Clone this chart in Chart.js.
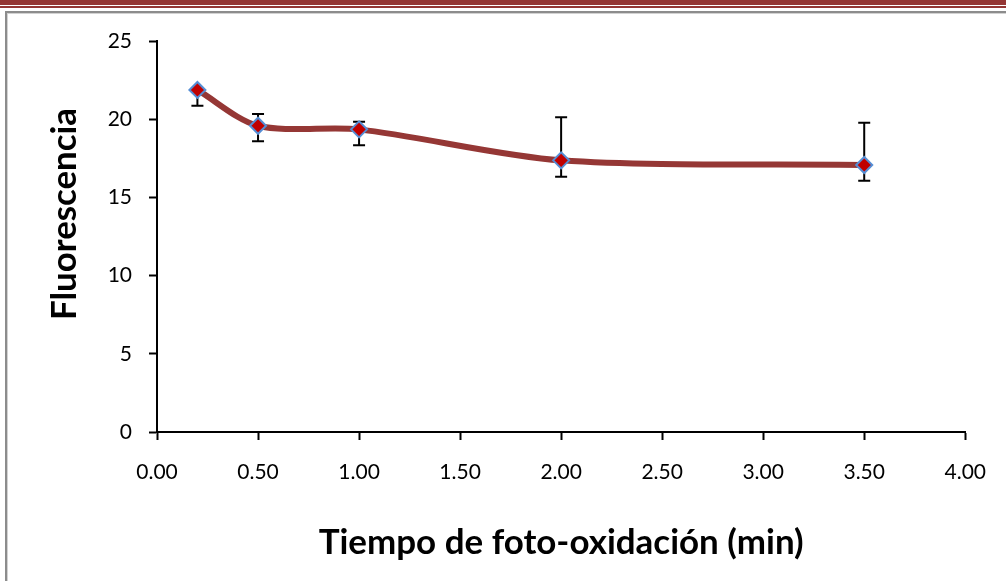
<!DOCTYPE html>
<html lang="es">
<head>
<meta charset="utf-8">
<title>Fluorescencia frente al tiempo de foto-oxidación</title>
<script src="https://cdn.jsdelivr.net/npm/chart.js@4.4.1/dist/chart.umd.min.js"></script>
<style>
  html, body { margin: 0; padding: 0; background: #ffffff; overflow: hidden; }
  #pagina { position: relative; width: 1006px; height: 581px; }
  .barra-gruesa { position: absolute; left: 0; top: 0; width: 1006px; height: 5px; background: #943634; }
  .barra-fina { position: absolute; left: 0; top: 6px; width: 1006px; height: 2px; background: #943634; }
  .marco {
    position: absolute; left: 5px; top: 11px; width: 1030px; height: 620px;
    border-top: 2px solid #8c8c8c; border-left: 2px solid #8c8c8c;
    box-shadow: inset 1px 1px 0 #d2d2d2;
  }
  #grafico { position: absolute; left: 0; top: 0; }
</style>
</head>
<body>
<div id="pagina">
  <div class="barra-gruesa"></div>
  <div class="barra-fina"></div>
  <div class="marco"></div>
  <canvas id="grafico" width="1006" height="581"></canvas>
</div>
<script>
// Tiempo de foto-oxidación (min) y fluorescencia media
const tiempos = [0.2, 0.5, 1.0, 2.0, 3.5];
const fluorescencia = [21.87, 19.58, 19.35, 17.37, 17.07];
// Barras de error (por encima y por debajo de la media)
const errorMas = [0.0, 0.75, 0.49, 2.75, 2.71];
const errorMenos = [1.01, 0.99, 1.02, 1.05, 1.00];
// Marcas de los ejes
const marcasX = [0, 0.5, 1.0, 1.5, 2.0, 2.5, 3.0, 3.5, 4.0];
const marcasY = [0, 5, 10, 15, 20, 25];
const tituloX = 'Tiempo de foto-oxidación (min)';
const tituloY = 'Fluorescencia';

const FAMILIA = 'Lato';

// Ajusta el tamaño de letra para que el texto ocupe el ancho indicado
function tamanoParaAncho(texto, peso, ancho) {
  const c = document.createElement('canvas').getContext('2d');
  c.font = `${peso} 100px ${FAMILIA}`;
  return 100 * ancho / c.measureText(texto).width;
}
const tamTituloX = tamanoParaAncho(tituloX, 'bold', 485);
const tamTituloY = tamanoParaAncho(tituloY, 'bold', 212);

// Barras de error dibujadas con las escalas del gráfico, bajo la línea
const barrasError = {
  id: 'barrasError',
  beforeDatasetsDraw(chart) {
    const { ctx, scales: { x, y } } = chart;
    const semi = 6;
    ctx.save();
    ctx.strokeStyle = '#000000';
    ctx.lineWidth = 2;
    tiempos.forEach((t, i) => {
      const px = x.getPixelForValue(t);
      const yArriba = y.getPixelForValue(fluorescencia[i] + errorMas[i]);
      const yAbajo = y.getPixelForValue(fluorescencia[i] - errorMenos[i]);
      ctx.beginPath();
      ctx.moveTo(px, yArriba);
      ctx.lineTo(px, yAbajo);
      if (errorMas[i] > 0) {
        ctx.moveTo(px - semi, yArriba);
        ctx.lineTo(px + semi, yArriba);
      }
      ctx.moveTo(px - semi, yAbajo);
      ctx.lineTo(px + semi, yAbajo);
      ctx.stroke();
    });
    ctx.restore();
  }
};

// Títulos de los ejes
const titulosEjes = {
  id: 'titulosEjes',
  afterDraw(chart) {
    const { ctx, chartArea } = chart;
    ctx.save();
    ctx.fillStyle = '#000000';
    ctx.textAlign = 'center';
    ctx.textBaseline = 'alphabetic';

    ctx.font = `bold ${tamTituloX}px ${FAMILIA}`;
    ctx.fillText(tituloX, (chartArea.left + chartArea.right) / 2, 554);

    ctx.translate(76, 214);
    ctx.rotate(-Math.PI / 2);
    ctx.font = `bold ${tamTituloY}px ${FAMILIA}`;
    ctx.fillText(tituloY, 0, 0);
    ctx.restore();
  }
};

const rejilla = {
  display: true,
  drawOnChartArea: false,
  drawTicks: true,
  tickLength: 8,
  tickWidth: 2,
  tickColor: '#000000'
};
const borde = { display: true, color: '#000000', width: 2 };
const letraMarcas = { family: FAMILIA, size: 21 };

new Chart(document.getElementById('grafico'), {
  type: 'line',
  data: {
    datasets: [{
      label: tituloY,
      data: tiempos.map((t, i) => ({ x: t, y: fluorescencia[i] })),
      borderColor: '#953735',
      borderWidth: 6,
      tension: 0.3,
      fill: false,
      pointStyle: 'rectRot',
      pointRadius: 8,
      pointBackgroundColor: '#C00000',
      pointBorderColor: '#558ED5',
      pointBorderWidth: 2,
      clip: false
    }]
  },
  options: {
    responsive: false,
    animation: false,
    devicePixelRatio: 1,
    layout: { padding: { left: 0, top: 41, right: 38, bottom: 0 } },
    plugins: {
      legend: { display: false },
      tooltip: { enabled: false }
    },
    scales: {
      x: {
        type: 'linear',
        min: 0,
        max: 4,
        afterFit: s => { s.height = 149; },
        afterBuildTicks: s => { s.ticks = marcasX.map(v => ({ value: v })); },
        grid: rejilla,
        border: borde,
        ticks: {
          font: letraMarcas,
          color: '#000000',
          padding: 20,
          autoSkip: false,
          maxRotation: 0,
          callback: v => Number(v).toFixed(2)
        },
        title: { display: false }
      },
      y: {
        type: 'linear',
        min: 0,
        max: 25,
        afterFit: s => { s.width = 157; },
        afterBuildTicks: s => { s.ticks = marcasY.map(v => ({ value: v })); },
        grid: rejilla,
        border: borde,
        ticks: {
          font: letraMarcas,
          color: '#000000',
          padding: 17,
          autoSkip: false
        },
        title: { display: false }
      }
    }
  },
  plugins: [barrasError, titulosEjes]
});
</script>
</body>
</html>
